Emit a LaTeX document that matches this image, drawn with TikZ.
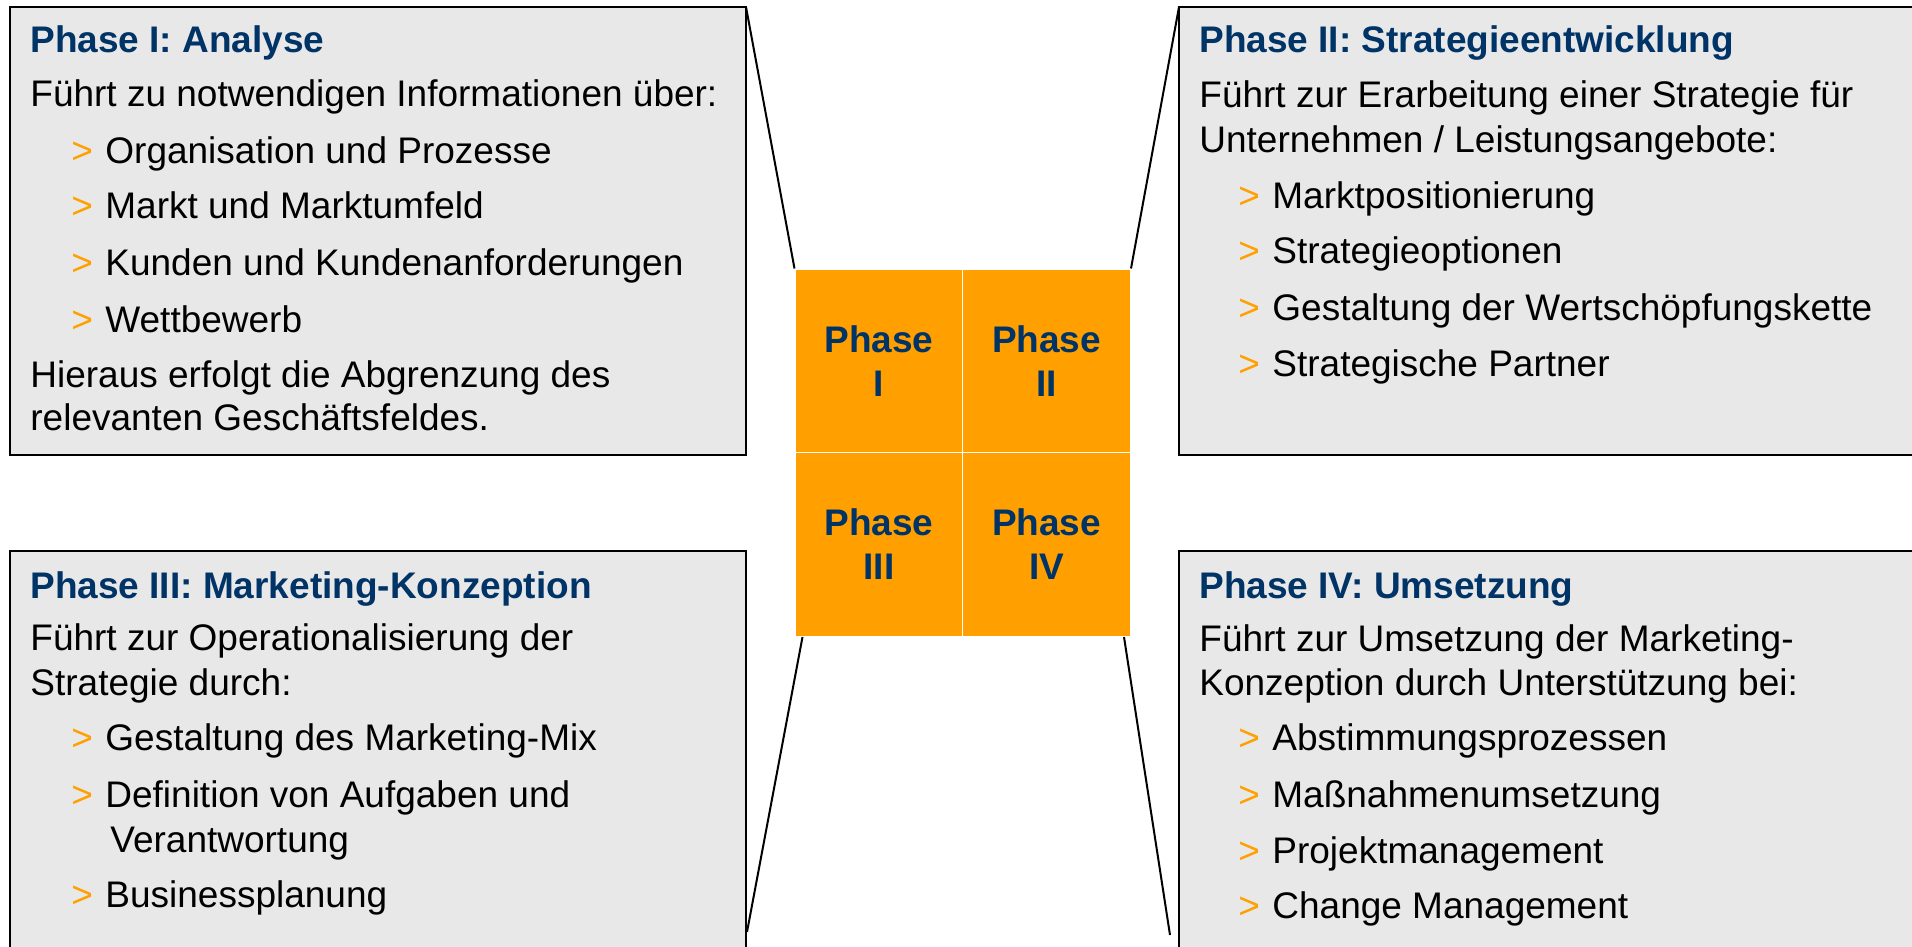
\documentclass[tikz,border=0pt]{standalone}
\usepackage{fontspec}
\setmainfont{Liberation Sans}

\definecolor{boxgrey}{RGB}{232,232,232}
\definecolor{phaseblue}{RGB}{0,51,102}
\definecolor{phaseorange}{RGB}{255,160,0}

\newcommand{\bul}{\makebox[17pt][l]{\color{phaseorange}>}}

\begin{document}
\begin{tikzpicture}[x=0.5pt,y=-0.5pt,
		phasebox/.style={draw=black, line width=1.3pt, fill=boxgrey, anchor=north west, inner sep=0, outer sep=0},
		cell/.style={draw=white, line width=0.5pt, fill=phaseorange, minimum width=84pt, minimum height=92pt, inner sep=0,
			align=center, text=phaseblue, font=\bfseries\fontsize{18.5}{22}\selectfont},
		head/.style={anchor=base west, inner sep=0, text=phaseblue, font=\bfseries\fontsize{18.5}{22}\selectfont},
		txt/.style={anchor=base west, inner sep=0, font=\fontsize{18.5}{22}\selectfont},
		link/.style={draw=black, line width=1pt}]
				\clip (0,0) rectangle (1912,947);
				% boxes
				\node[phasebox, minimum width=368pt, minimum height=224pt] (box1) at (10,7) {};
				\node[phasebox, minimum width=400pt, minimum height=224pt] (box2) at (1179,7) {};
				\node[phasebox, minimum width=368pt, minimum height=250pt] (box3) at (10,551) {};
				\node[phasebox, minimum width=400pt, minimum height=250pt] (box4) at (1179,551) {};
				
				% phase square
				\node[cell] (p1) at (879,361) {Phase\\I};
				\node[cell] (p2) at (1046.5,361) {Phase\\II};
				\node[cell] (p3) at (879,544.5) {Phase\\III};
				\node[cell] (p4) at (1046.5,544.5) {Phase\\IV};
				
				% links
				\coordinate (e3) at (747,932);
				\coordinate (e4) at (1170,935);
				\draw[link] (box1.north east) -- (p1.north west);
				\draw[link] (box2.north west) -- (p2.north east);
				\draw[link] ([xshift=4pt]p3.south west) -- (e3);
				\draw[link] ([xshift=-3.5pt]p4.south east) -- (e4);
				
				% phase I
				\node[head] (a0) at (30,53) {Phase I: Analyse};
				\node[txt] (a1) at (30,107) {Führt zu notwendigen Informationen über:};
				\node[txt] (a2) at (71,163) {\bul Organisation und Prozesse};
				\node[txt] (a3) at (71,219) {\bul Markt und Marktumfeld};
				\node[txt] (a4) at (71,275) {\bul Kunden und Kundenanforderungen};
				\node[txt] (a5) at (71,332) {\bul Wettbewerb};
				\node[txt] (a6) at (30,387) {Hieraus erfolgt die Abgrenzung des};
				\node[txt] (a7) at (30,430) {relevanten Geschäftsfeldes.};
				% phase II
				\node[head] (b0) at (1199,53) {Phase II: Strategieentwicklung};
				\node[txt] (b1) at (1199,108) {Führt zur Erarbeitung einer Strategie für};
				\node[txt] (b2) at (1199,153) {Unternehmen / Leistungsangebote:};
				\node[txt] (b3) at (1238,208) {\bul Marktpositionierung};
				\node[txt] (b4) at (1238,263) {\bul Strategieoptionen};
				\node[txt] (b5) at (1238,320) {\bul Gestaltung der Wertschöpfungskette};
				\node[txt] (b6) at (1238,376) {\bul Strategische Partner};
				% phase III
				\node[head] (c0) at (30,598) {Phase III: Marketing-Konzeption};
				\node[txt] (c1) at (30,650) {Führt zur Operationalisierung der};
				\node[txt] (c2) at (30,695) {Strategie durch:};
				\node[txt] (c3) at (71,750) {\bul Gestaltung des Marketing-Mix};
				\node[txt] (c4) at (71,807) {\bul Definition von Aufgaben und};
				\node[txt] (c5) at (110,852) {Verantwortung};
				\node[txt] (c6) at (71,907) {\bul Businessplanung};
				% phase IV
				\node[head] (d0) at (1199,598) {Phase IV: Umsetzung};
				\node[txt] (d1) at (1199,651) {Führt zur Umsetzung der Marketing-};
				\node[txt] (d2) at (1199,695) {Konzeption durch Unterstützung bei:};
				\node[txt] (d3) at (1238,750) {\bul Abstimmungsprozessen};
				\node[txt] (d4) at (1238,807) {\bul Maßnahmenumsetzung};
				\node[txt] (d5) at (1238,863) {\bul Projektmanagement};
				\node[txt] (d6) at (1238,918) {\bul Change Management};
			\end{tikzpicture}
\end{document}
